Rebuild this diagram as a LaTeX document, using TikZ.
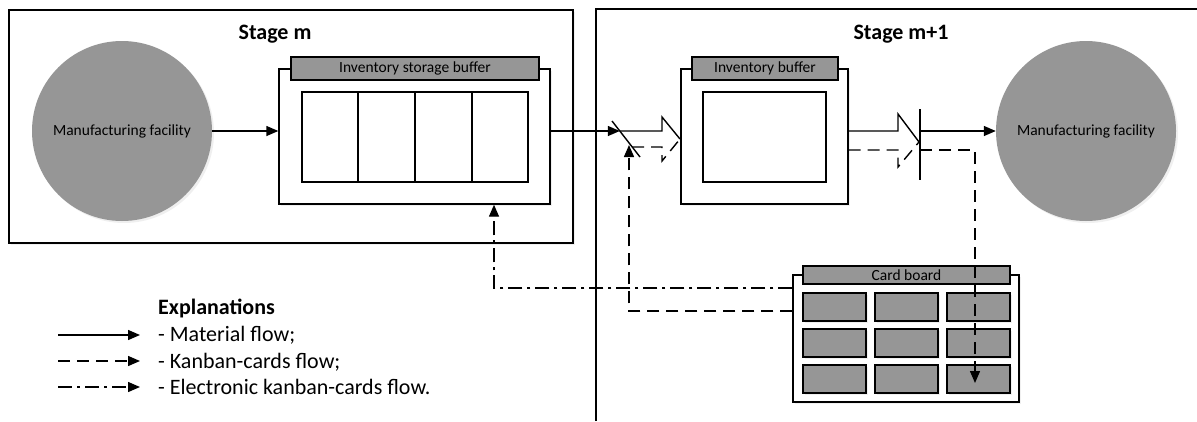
\documentclass[tikz,border=0pt]{standalone}
\usepackage{fontspec}
\setmainfont{Carlito}
\usetikzlibrary{arrows.meta,shadows}
\definecolor{fillgray}{RGB}{150,150,150}
\begin{document}
\begin{tikzpicture}[x=1pt,y=-1pt,
  lw/.style={line width=1.4pt},
  shad/.style={drop shadow={opacity=0.12,shadow xshift=2pt,shadow yshift=-2pt}},
  frame/.style={draw,lw,fill=white,inner sep=0pt,shad},
  hdr/.style={draw,lw,fill=fillgray,inner sep=0pt,font=\fontsize{15.5}{18}\selectfont},
  cell/.style={draw,lw,fill=fillgray,minimum width=63pt,minimum height=28pt,inner sep=0pt,shad},
  mfc/.style={circle,fill=fillgray,minimum size=180pt,inner sep=0pt,shad,font=\fontsize{15.5}{18}\selectfont},
  flow/.style={lw,-{Triangle[length=12pt,width=10pt]}},
  kanban/.style={dash pattern=on 12pt off 7pt},
  ekanban/.style={dash pattern=on 14pt off 5pt on 3pt off 5pt},
  title/.style={font=\fontsize{22}{26}\selectfont\bfseries,anchor=base,inner sep=0pt},
  legtext/.style={font=\fontsize{22}{26}\selectfont,anchor=base west,inner sep=0pt}]
\useasboundingbox (0,0) rectangle (1197,421);

% stages
\node[draw,lw,minimum width=564pt,minimum height=233pt,inner sep=0pt,shad,fill=white] (stageM) at (291,126.5) {};
\draw[lw] (596,421) -- (596,9) -- (1197,9);
\node[title] (tM) at (275,39) {Stage m};
\node[title] (tM1) at (901,39) {Stage m+1};

% manufacturing facilities
\node[mfc] (mf1) at (122,131) {Manufacturing facility};
\node[mfc] (mf2) at (1086,131) {Manufacturing facility};

% inventory storage buffer
\node[frame,minimum width=271pt,minimum height=135pt] (isb) at (414.5,136.5) {};
\node[hdr,minimum width=248pt,minimum height=23pt] (isbh) at (415,68.5) {Inventory storage buffer};
\node[draw,lw,fill=white,minimum width=226pt,minimum height=90pt,inner sep=0pt] (isbi) at (415,137) {};
\coordinate (dv1) at (358,92);
\coordinate (dv2) at (415,92);
\coordinate (dv3) at (472,92);
\foreach \d in {dv1,dv2,dv3} \draw[lw] (\d |- isbi.north) -- (\d |- isbi.south);

% inventory buffer
\node[frame,minimum width=167pt,minimum height=135pt] (ib) at (764.5,136.5) {};
\node[hdr,minimum width=146pt,minimum height=23pt] (ibh) at (765,68.5) {Inventory buffer};
\node[draw,lw,fill=white,minimum width=123pt,minimum height=90pt,inner sep=0pt] (ibi) at (764.5,137) {};

% card board
\node[frame,minimum width=226pt,minimum height=127pt] (cb) at (906,338.5) {};
\node[hdr,minimum width=207pt,minimum height=18pt] (cbh) at (906.5,275) {Card board};
\foreach \r/\y in {1/307,2/343,3/379}
  \foreach \c/\x in {1/834.5,2/906.5,3/978.5}
    \node[cell] (c\r\c) at (\x,\y) {};

% coordinates
\coordinate (g1) at (619.8,131);
\coordinate (s1a) at (612,121);
\coordinate (s1b) at (640,157);
\coordinate (h1) at (662,131);
\coordinate (h1t) at (662,117);
\coordinate (tip1) at (680,139);
\coordinate (d1) at (632,147);
\coordinate (h1d) at (662,147);
\coordinate (h1b) at (662,161);
\coordinate (k1) at (629,311);
\coordinate (k2) at (629,145);
\coordinate (e1) at (494,288);
\coordinate (h2) at (898,131);
\coordinate (h2t) at (898,114);
\coordinate (tip2) at (919,142);
\coordinate (h2d) at (898,150);
\coordinate (h2b) at (898,167);
\coordinate (b2a) at (920,109);
\coordinate (b2b) at (920,180);
\coordinate (b2m) at (920,131);
\coordinate (b2d) at (920,150);
\coordinate (k3) at (975,150);
\coordinate (k4) at (975,383);

% material flow
\draw[flow] (mf1.east) -- (mf1.east -| isb.west);
\draw[flow] (isb.east |- g1) -- (g1);
\draw[lw] (s1a) -- (s1b);
\draw[lw] (g1) -- (h1) -- (h1t) -- (tip1);
\draw[lw,kanban] (d1) -- (h1d) -- (h1b) -- (tip1);
\draw[lw] (ib.east |- h2) -- (h2) -- (h2t) -- (tip2);
\draw[lw,kanban] (ib.east |- h2d) -- (h2d) -- (h2b) -- (tip2);
\draw[lw] (b2a) -- (b2b);
\draw[flow] (b2m) -- (mf2.west);

% kanban flows
\draw[flow,kanban] (cb.west |- k1) -- (k1) -- (k2);
\draw[flow,kanban] (b2d) -- (k3) -- (k4);
\draw[flow,ekanban] (cb.west |- e1) -- (e1) -- (e1 |- isb.south);

% legend
\node[font=\fontsize{22}{26}\selectfont\bfseries,anchor=base west,inner sep=0pt] (lexp) at (158,314) {Explanations};
\coordinate (la1) at (58,335); \coordinate (lb1) at (140,335);
\coordinate (la2) at (58,361); \coordinate (lb2) at (140,361);
\coordinate (la3) at (58,387); \coordinate (lb3) at (140,387);
\draw[flow] (la1) -- (lb1);
\draw[flow,kanban] (la2) -- (lb2);
\draw[flow,ekanban] (la3) -- (lb3);
\node[legtext] (lt1) at (158,341.7) {- Material flow;};
\node[legtext] (lt2) at (158,368) {- Kanban-cards flow;};
\node[legtext] (lt3) at (158,394) {- Electronic kanban-cards flow.};
\end{tikzpicture}
\end{document}
